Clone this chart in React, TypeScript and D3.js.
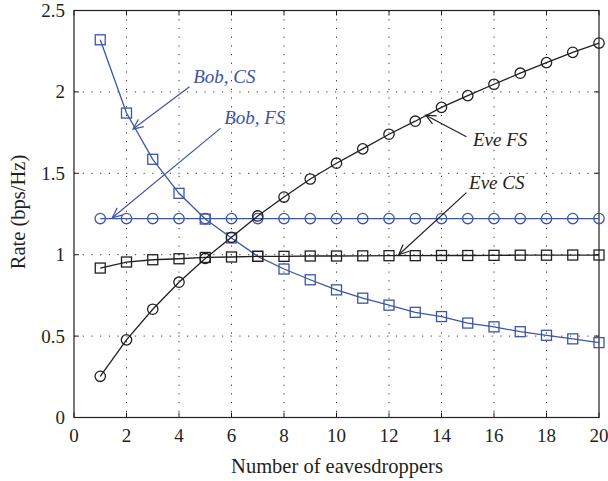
import * as d3 from "d3";

const eavesdroppers = [1, 2, 3, 4, 5, 6, 7, 8, 9, 10, 11, 12, 13, 14, 15, 16, 17, 18, 19, 20];
const bobCS = [2.32, 1.87, 1.586, 1.377, 1.219, 1.103, 0.99, 0.912, 0.846, 0.784, 0.733, 0.69, 0.646, 0.62, 0.58, 0.557, 0.527, 0.505, 0.483, 0.46];
const bobFS = [1.222, 1.222, 1.222, 1.222, 1.222, 1.222, 1.222, 1.222, 1.222, 1.222, 1.222, 1.222, 1.222, 1.222, 1.222, 1.222, 1.222, 1.222, 1.222, 1.222];
const eveCS = [0.918, 0.955, 0.969, 0.975, 0.983, 0.986, 0.99, 0.99, 0.992, 0.992, 0.993, 0.994, 0.994, 0.995, 0.995, 0.996, 0.997, 0.997, 0.998, 0.998];
const eveFS = [0.253, 0.477, 0.665, 0.831, 0.977, 1.107, 1.238, 1.354, 1.465, 1.562, 1.65, 1.74, 1.82, 1.905, 1.977, 2.047, 2.115, 2.18, 2.243, 2.3];

const xTicks = [0, 2, 4, 6, 8, 10, 12, 14, 16, 18, 20];
const yTicks = [0, 0.5, 1, 1.5, 2, 2.5];

// annotations: label, text anchor point (data coords), arrow start, arrow tip
const notes = [
  { label: "Bob, CS", color: "#3d55a5", tx: 4.54, ty: 2.052, x1: 4.4, y1: 2.032, x2: 2.25, y2: 1.772 },
  { label: "Bob, FS", color: "#3d55a5", tx: 5.72, ty: 1.8, x1: 5.58, y1: 1.776, x2: 1.46, y2: 1.227 },
  { label: "Eve FS", color: "#231f20", tx: 15.2, ty: 1.668, x1: 14.95, y1: 1.725, x2: 13.4, y2: 1.857 },
  { label: "Eve CS", color: "#231f20", tx: 15.05, ty: 1.404, x1: 14.95, y1: 1.381, x2: 12.37, y2: 1.0 },
];

const W = 608;
const H = 481;
const m = { left: 74, right: 599, top: 10.5, bottom: 417.5 };
const BLUE = "#3d55a5";
const BLACK = "#231f20";
const FONT = "'Liberation Serif', 'DejaVu Serif', serif";

function Arrow({ x1, y1, x2, y2, color }: { x1: number; y1: number; x2: number; y2: number; color: string }) {
  const ang = Math.atan2(y1 - y2, x1 - x2);
  const len = 11;
  const spread = 0.42;
  const a1 = [x2 + len * Math.cos(ang + spread), y2 + len * Math.sin(ang + spread)];
  const a2 = [x2 + len * Math.cos(ang - spread), y2 + len * Math.sin(ang - spread)];
  return (
    <g stroke={color} strokeWidth={1.2} fill="none">
      <line x1={x1} y1={y1} x2={x2} y2={y2} />
      <polyline points={`${a1[0]},${a1[1]} ${x2},${y2} ${a2[0]},${a2[1]}`} />
    </g>
  );
}

export default function App() {
  const x = d3.scaleLinear().domain([0, 20]).range([m.left, m.right]);
  const y = d3.scaleLinear().domain([0, 2.5]).range([m.bottom, m.top]);
  const line = d3
    .line<number>()
    .x((_, i) => x(eavesdroppers[i]))
    .y((d) => y(d));

  const series = [
    { vals: bobFS, color: BLUE, marker: "circle" },
    { vals: bobCS, color: BLUE, marker: "square" },
    { vals: eveCS, color: BLACK, marker: "square" },
    { vals: eveFS, color: BLACK, marker: "circle" },
  ];

  return (
    <svg width={W} height={H} style={{ position: "absolute", left: 0, top: 0, background: "#fff" }} fontFamily={FONT}>
      {/* grid */}
      <g stroke="#333" strokeWidth={1} strokeDasharray="1.2,7.5">
        {xTicks.slice(1, -1).map((t) => (
          <line key={"gx" + t} x1={x(t)} x2={x(t)} y1={m.top} y2={m.bottom} />
        ))}
        {yTicks.slice(1, -1).map((t) => (
          <line key={"gy" + t} x1={m.left} x2={m.right} y1={y(t)} y2={y(t)} />
        ))}
      </g>
      {/* inner ticks */}
      <g stroke={BLACK} strokeWidth={1}>
        {xTicks.map((t) => (
          <g key={"tx" + t}>
            <line x1={x(t)} x2={x(t)} y1={m.bottom} y2={m.bottom - 5} />
            <line x1={x(t)} x2={x(t)} y1={m.top} y2={m.top + 5} />
          </g>
        ))}
        {yTicks.map((t) => (
          <g key={"ty" + t}>
            <line x1={m.left} x2={m.left + 5} y1={y(t)} y2={y(t)} />
            <line x1={m.right} x2={m.right - 5} y1={y(t)} y2={y(t)} />
          </g>
        ))}
      </g>
      <rect x={m.left} y={m.top} width={m.right - m.left} height={m.bottom - m.top} fill="none" stroke={BLACK} strokeWidth={1.2} />

      {/* series */}
      {series.map((s, si) => (
        <g key={si} stroke={s.color} fill="none" strokeWidth={1.3}>
          <path d={line(s.vals) ?? ""} />
          {s.vals.map((v, i) =>
            s.marker === "circle" ? (
              <circle key={i} cx={x(eavesdroppers[i])} cy={y(v)} r={5.2} />
            ) : (
              <rect key={i} x={x(eavesdroppers[i]) - 5} y={y(v) - 5} width={10} height={10} />
            )
          )}
        </g>
      ))}

      {/* annotations */}
      {notes.map((n) => (
        <g key={n.label}>
          <Arrow x1={x(n.x1)} y1={y(n.y1)} x2={x(n.x2)} y2={y(n.y2)} color={n.color} />
          <text x={x(n.tx)} y={y(n.ty)} fill={n.color} fontStyle="italic" fontSize={19}>
            {n.label}
          </text>
        </g>
      ))}

      {/* tick labels */}
      <g fill={BLACK} fontSize={19}>
        {xTicks.map((t) => (
          <text key={"lx" + t} x={x(t)} y={m.bottom + 24.5} textAnchor="middle">
            {t}
          </text>
        ))}
        {yTicks.map((t) => (
          <text key={"ly" + t} x={m.left - 9} y={y(t) + 6.5} textAnchor="end">
            {t}
          </text>
        ))}
      </g>
      <text x={337} y={473} textAnchor="middle" fontSize={20.5} fill={BLACK}>
        Number of eavesdroppers
      </text>
      <text
        transform={`translate(25,212) rotate(-90)`}
        textAnchor="middle"
        fontSize={20.5}
        fill={BLACK}
      >
        Rate (bps/Hz)
      </text>
    </svg>
  );
}
